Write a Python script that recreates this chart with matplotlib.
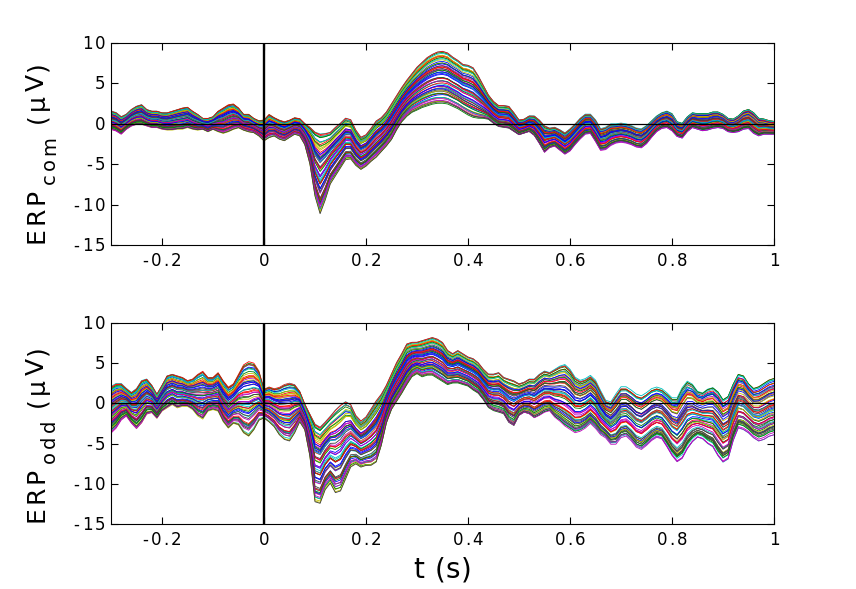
import numpy as np
import matplotlib
matplotlib.use("Agg")
import matplotlib.pyplot as plt
from matplotlib.font_manager import FontProperties

plt.rcParams['font.family'] = ['DejaVu Sans']
plt.rcParams['axes.unicode_minus'] = False

# time axis (s), 10 ms steps
t = np.round(np.arange(-0.30, 1.0001, 0.01), 2)

# ---- ERP_com envelope (upper / lower) (uV)
com_hi = [1.6, 1.4, 0.9, 1.2, 1.8, 2.2, 2.4, 1.8, 1.6, 1.6,
          1.4, 1.4, 1.6, 1.8, 2.0, 2.1, 1.6, 1.2, 0.7, 0.7,
          0.9, 1.6, 2.0, 2.4, 2.5, 2.0, 1.2, 1.2, 0.7, 0.4,
          0.5, 1.2, 0.8, 0.5, 0.3, 0.5, 0.8, 0.7, 0.1, -0.3,
          -0.8, -1.0, -1.0, -0.9, -0.3, 0.2, 0.8, 0.6, -0.7, -1.6,
          -1.3, -0.5, 0.4, 0.8, 1.5, 2.5, 3.5, 4.5, 5.4, 6.2,
          7.0, 7.6, 8.2, 8.6, 8.9, 9.0, 8.8, 8.3, 7.9, 7.4,
          7.3, 7.0, 6.0, 4.8, 3.6, 2.8, 2.3, 2.3, 2.2, 1.4,
          0.5, 0.6, 1.0, 1.0, 0.5, -0.2, -0.5, -0.4, -0.7, -1.1,
          -0.6, 0.0, 0.7, 1.2, 1.2, 0.5, -0.6, -0.4, 0.0, 0.0,
          0.1, 0.0, -0.2, -0.5, -0.6, -0.2, 0.4, 1.0, 1.4, 1.6,
          1.3, 0.3, 0.1, 0.9, 1.4, 1.3, 1.3, 1.3, 1.5, 1.5,
          1.2, 0.7, 0.6, 1.0, 1.6, 1.8, 1.4, 0.7, 0.6, 0.4,
          0.3]
com_lo = [-0.7, -0.9, -1.3, -0.7, -0.3, -0.1, -0.1, -0.3, -0.5, -0.5,
          -0.7, -0.8, -0.8, -0.7, -0.7, -0.5, -0.7, -0.8, -0.7, -1.0,
          -0.7, -1.0, -1.2, -1.0, -0.7, -0.5, -0.8, -1.0, -1.1, -1.5,
          -2.1, -1.7, -1.5, -1.9, -2.1, -1.7, -1.3, -1.5, -2.6, -5.0,
          -9.0, -11.2, -9.5, -7.5, -6.5, -5.5, -4.5, -4.4, -5.2, -5.7,
          -5.3, -4.7, -4.2, -3.5, -2.8, -2.0, -0.8, 0.2, 0.9, 1.4,
          1.7, 2.0, 2.2, 2.4, 2.5, 2.5, 2.4, 2.1, 1.8, 1.4,
          1.0, 0.7, 0.6, 0.6, 0.5, 0.0, -0.4, -0.5, -0.6, -1.0,
          -1.4, -1.2, -1.0, -1.5, -2.5, -3.6, -3.0, -2.8, -3.3, -3.8,
          -3.4, -2.6, -1.9, -1.3, -1.2, -2.2, -3.3, -3.2, -2.7, -2.4,
          -2.3, -2.4, -2.6, -2.9, -3.0, -2.5, -1.7, -1.0, -0.6, -0.5,
          -0.9, -1.6, -1.8, -1.0, -0.5, -0.7, -0.9, -0.8, -0.6, -0.5,
          -0.6, -1.0, -1.1, -1.0, -0.7, -0.6, -1.2, -1.5, -1.3, -1.3,
          -1.3]

# ---- ERP_odd envelope (upper / lower) (uV)
odd_hi = [2.1, 2.5, 2.5, 1.9, 1.4, 1.9, 2.9, 3.1, 2.3, 1.2,
          2.3, 3.5, 3.7, 3.5, 3.3, 2.9, 3.1, 3.7, 4.1, 3.3,
          3.3, 3.9, 2.9, 2.1, 2.5, 3.7, 4.9, 5.3, 5.1, 4.1,
          1.8, 2.1, 1.9, 2.1, 2.5, 2.7, 2.5, 1.6, 0.0, -1.2,
          -2.3, -2.7, -2.1, -1.4, -0.6, 0.0, 0.4, 0.0, -1.4, -2.1,
          -1.6, -0.6, 0.4, 1.2, 2.3, 3.7, 5.1, 6.2, 7.4, 7.6,
          7.6, 7.8, 8.0, 8.2, 8.0, 7.6, 6.6, 6.2, 6.6, 6.2,
          5.8, 5.6, 5.1, 4.3, 3.7, 3.7, 3.9, 3.3, 3.1, 2.9,
          2.5, 2.7, 3.1, 3.1, 3.7, 4.1, 3.9, 4.3, 4.7, 4.9,
          4.3, 3.3, 2.9, 3.1, 3.5, 2.9, 1.6, 0.4, 0.2, 1.2,
          2.1, 2.1, 1.7, 1.2, 1.0, 1.4, 1.9, 2.1, 1.9, 1.4,
          0.8, 0.8, 2.1, 2.9, 2.5, 1.6, 1.4, 1.9, 2.1, 1.6,
          0.6, 1.0, 2.5, 3.7, 3.5, 2.5, 1.9, 2.1, 2.5, 2.9,
          3.1]
odd_lo = [-3.7, -3.1, -2.1, -1.6, -2.5, -3.2, -2.5, -1.4, -1.2, -1.9,
          -1.0, -0.6, -0.2, -0.6, -0.4, -0.4, -0.8, -1.6, -2.0, -1.0,
          -0.8, -1.0, -2.3, -3.1, -2.5, -2.7, -3.7, -4.1, -3.3, -2.1,
          -1.8, -2.3, -2.9, -3.9, -4.5, -4.7, -3.7, -2.3, -3.3, -6.6,
          -12.3, -12.5, -10.8, -10.0, -11.2, -11.0, -9.5, -8.0, -7.6, -8.0,
          -7.8, -7.8, -7.4, -5.3, -2.5, -0.8, 0.2, 1.2, 2.3, 3.3,
          3.7, 3.3, 3.5, 3.5, 3.1, 2.7, 2.3, 2.5, 2.5, 2.3,
          2.1, 1.6, 1.2, 0.4, -0.6, -1.0, -1.2, -1.4, -2.5, -2.9,
          -1.6, -1.2, -1.4, -1.9, -1.6, -1.2, -1.0, -1.8, -2.3, -2.9,
          -3.3, -3.7, -3.5, -3.1, -2.5, -3.1, -3.9, -4.3, -5.1, -5.1,
          -4.3, -4.1, -4.7, -5.5, -5.8, -5.3, -4.7, -4.3, -4.5, -5.5,
          -6.6, -7.4, -7.0, -5.8, -4.9, -4.3, -4.5, -5.1, -5.5, -6.6,
          -7.4, -7.0, -4.7, -3.1, -3.3, -3.7, -4.3, -4.7, -4.5, -4.1,
          -3.9]

# ---- per-channel position inside the envelope (0 = lower, 1 = upper)
#      at the anchor times W_T
W_T = [-0.30, 0.00, 0.30, 0.65, 1.00]
W_A = [0.47, 0.12, 0.83, 0.31, 0.66, 0.02, 0.58, 0.24, 0.93, 0.39,
       0.15, 0.73, 0.51, 0.29, 0.88, 0.07, 0.61, 0.36, 0.44, 0.80,
       0.20, 0.54, 0.42, 0.97, 0.49, 0.27, 0.71, 0.17, 0.64, 0.34,
       0.56, 0.05, 0.78, 0.32, 0.59, 0.22, 0.69, 0.46, 0.90, 0.37,
       0.10, 0.63, 0.41, 0.85, 0.25, 0.53, 0.00, 0.76, 0.19, 0.68,
       0.14, 0.75, 1.00, 0.03, 0.86, 0.08, 0.81, 0.95, 0.98, 0.92]
W_AB = [0.42, 0.16, 0.80, 0.43, 0.55, 0.00, 0.69, 0.12, 0.90, 0.44,
        0.13, 0.77, 0.49, 0.38, 0.92, 0.10, 0.58, 0.25, 0.57, 0.78,
        0.24, 0.44, 0.53, 0.99, 0.38, 0.21, 0.80, 0.14, 0.68, 0.33,
        0.60, 0.03, 0.70, 0.35, 0.52, 0.31, 0.73, 0.36, 0.96, 0.47,
        0.01, 0.62, 0.30, 0.86, 0.16, 0.64, 0.09, 0.74, 0.28, 0.71,
        0.11, 0.79, 0.94, 0.12, 0.83, 0.00, 0.72, 0.97, 0.95, 0.89]
W_B = [0.55, 0.05, 0.92, 0.40, 0.58, 0.10, 0.66, 0.15, 0.98, 0.30,
       0.22, 0.64, 0.60, 0.35, 0.80, 0.00, 0.70, 0.28, 0.52, 0.88,
       0.12, 0.47, 0.50, 0.90, 0.42, 0.33, 0.79, 0.25, 0.57, 0.43,
       0.48, 0.13, 0.71, 0.24, 0.67, 0.30, 0.62, 0.38, 1.00, 0.45,
       0.03, 0.72, 0.34, 0.77, 0.18, 0.61, 0.07, 0.84, 0.27, 0.60,
       0.20, 0.68, 0.95, 0.10, 0.93, 0.02, 0.74, 0.87, 1.00, 0.85]
W_BC = [0.59, 0.03, 0.88, 0.22, 0.75, 0.18, 0.52, 0.30, 0.95, 0.28,
        0.06, 0.80, 0.58, 0.19, 0.83, 0.05, 0.69, 0.40, 0.35, 0.86,
        0.10, 0.60, 0.48, 0.92, 0.54, 0.36, 0.68, 0.15, 0.59, 0.45,
        0.50, 0.04, 0.82, 0.27, 0.64, 0.17, 0.74, 0.49, 0.97, 0.31,
        0.14, 0.70, 0.39, 0.79, 0.29, 0.51, 0.00, 0.81, 0.22, 0.63,
        0.12, 0.77, 1.00, 0.06, 0.87, 0.09, 0.85, 0.93, 0.96, 0.90]
W_C = [0.40, 0.20, 0.76, 0.24, 0.73, 0.08, 0.50, 0.32, 0.86, 0.46,
       0.08, 0.81, 0.44, 0.22, 0.95, 0.14, 0.54, 0.43, 0.37, 0.72,
       0.27, 0.61, 0.35, 1.00, 0.56, 0.20, 0.64, 0.10, 0.71, 0.27,
       0.63, 0.00, 0.85, 0.39, 0.52, 0.15, 0.76, 0.53, 0.83, 0.30,
       0.17, 0.56, 0.48, 0.92, 0.32, 0.46, 0.04, 0.69, 0.12, 0.75,
       0.07, 0.82, 0.97, 0.00, 0.79, 0.15, 0.88, 1.00, 0.91, 0.98]

# MATLAB classic colour order
COLORS = [(0, 0, 1), (0, 0.5, 0), (1, 0, 0), (0, 0.75, 0.75),
          (0.75, 0, 0.75), (0.75, 0.75, 0), (0.25, 0.25, 0.25)]

XTICKS = [-0.2, 0, 0.2, 0.4, 0.6, 0.8, 1]
XTICKLABELS = ['-0.2', '0', '0.2', '0.4', '0.6', '0.8', '1']
YTICKS = [-15, -10, -5, 0, 5, 10]
YTICKLABELS = ['-15', '-10', '-5', '0', '5', '10']

fig = plt.figure(figsize=(8.56, 5.89), dpi=100)
W, H = 856, 589
ax1 = fig.add_axes([111 / W, 1 - 245 / H, 663 / W, 202 / H])
ax2 = fig.add_axes([111 / W, 1 - 524 / H, 663 / W, 201 / H])
renderer = fig.canvas.get_renderer()
FAM = 'DejaVu Sans'


def adv(c, size):
    fp = FontProperties(family=FAM, size=size)
    w1 = renderer.get_text_width_height_descent('H' + c + 'H', fp, ismath=False)[0]
    w0 = renderer.get_text_width_height_descent('HH', fp, ismath=False)[0]
    return w1 - w0


def tracked(x, y, s, size, track, ha='left', rot=0):
    """Draw text char by char (display px, y up) with a little extra spacing."""
    advs = [adv(c, size) for c in s]
    L = sum(advs) + track * (len(s) - 1)
    pos = {'left': 0.0, 'center': -L / 2, 'right': -L}[ha]
    for c, a in zip(s, advs):
        if c != ' ':
            px, py = (x + pos, y) if rot == 0 else (x, y + pos)
            fig.text(px / W, py / H, c, fontsize=size, family=FAM,
                     rotation=rot, rotation_mode='anchor',
                     ha='left', va='baseline')
        pos += a + track
    return L


TICK_SIZE = 12
TICK_TRACK = 2.2
LAB_SIZE = 18
SUB_SIZE = 14
LAB_TRACK = 3

panels = [(ax1, com_hi, com_lo, 'com'), (ax2, odd_hi, odd_lo, 'odd')]

for ax, hi, lo, sub in panels:
    hi = np.array(hi)
    lo = np.array(lo)
    for k in range(len(W_A)):
        w = np.interp(t, W_T, [W_A[k], W_AB[k], W_B[k], W_BC[k], W_C[k]])
        y = lo + w * (hi - lo)
        ax.plot(t, y, color=COLORS[k % 7], lw=0.6, zorder=2)
    ax.axhline(0, color='k', lw=0.9, zorder=3)
    ax.axvline(0, color='k', lw=1.7, zorder=4)
    ax.set_xlim(-0.3, 1.0)
    ax.set_ylim(-15, 10)
    ax.set_xticks(XTICKS)
    ax.set_yticks(YTICKS)
    ax.set_xticklabels([])
    ax.set_yticklabels([])
    ax.tick_params(direction='in', length=5, width=0.8, top=True, right=True)
    for s in ax.spines.values():
        s.set_linewidth(0.8)

    # tick labels
    x0, y0 = ax.transAxes.transform((0, 0))
    for xt, lab in zip(XTICKS, XTICKLABELS):
        xd = ax.transData.transform((xt, 0))[0]
        tracked(xd, y0 - 21, lab, TICK_SIZE, TICK_TRACK, ha='center')
    for yt, lab in zip(YTICKS, YTICKLABELS):
        yd = ax.transData.transform((0, yt))[1]
        tracked(x0 - 6, yd - 6, lab, TICK_SIZE, TICK_TRACK, ha='right')

    # y label: ERP_sub (uV)
    xb = 44
    yb = y0 + 2
    L1 = tracked(xb, yb, 'ERP', LAB_SIZE, LAB_TRACK, rot=90)
    L2 = tracked(xb + 11, yb + L1 + 5, sub, SUB_SIZE, LAB_TRACK, rot=90)
    tracked(xb, yb + L1 + L2 + 18, '(μV)', LAB_SIZE, LAB_TRACK, rot=90)

# x label
xc = ax2.transAxes.transform((0.5, 0))[0]
tracked(xc, H - 578, 't (s)', 20, 0.5, ha='center')

fig.savefig('out.png', dpi=100)
